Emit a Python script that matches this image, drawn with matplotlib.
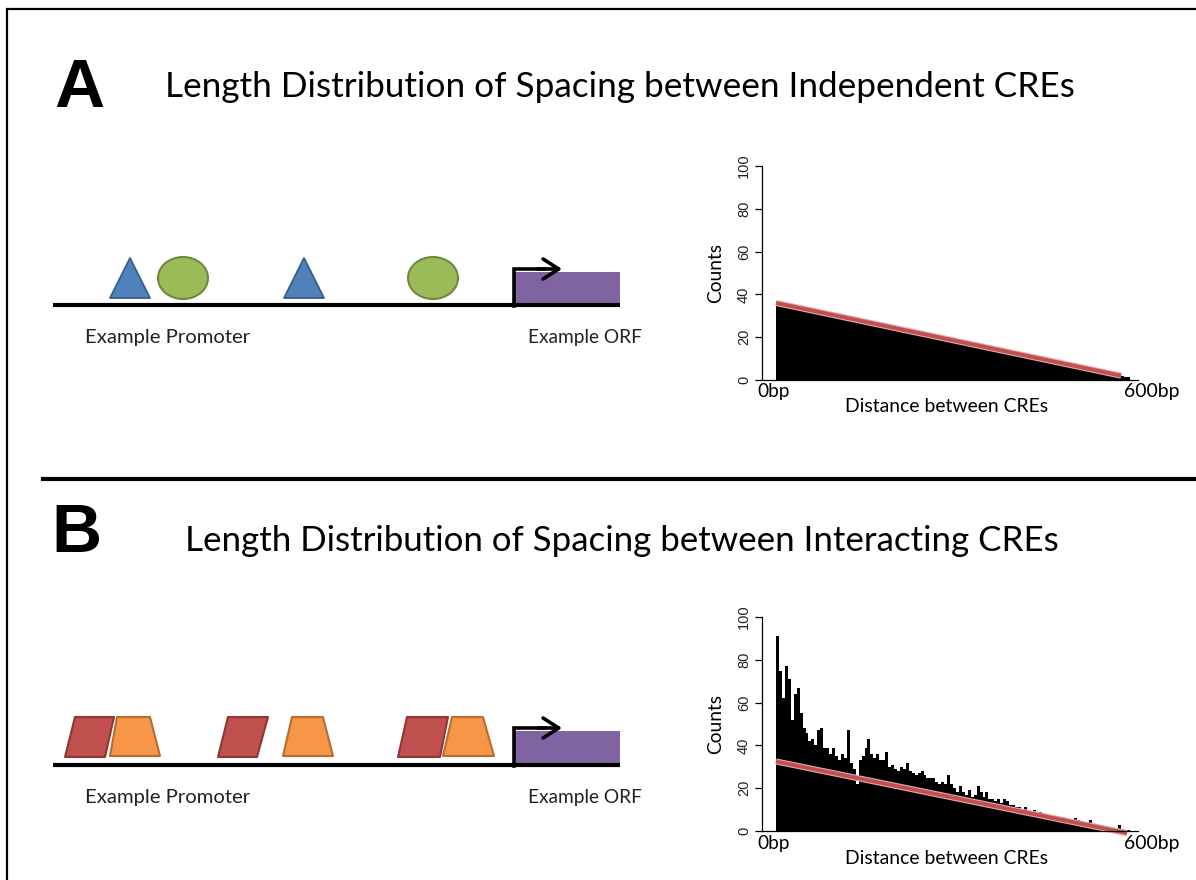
import numpy as np
import matplotlib
matplotlib.use('Agg')
import matplotlib.pyplot as plt
from matplotlib.patches import Polygon, Ellipse, Rectangle, FancyArrowPatch

plt.rcParams.update({'font.family': ['Lato', 'DejaVu Sans'],
                     'figure.facecolor': 'white'})

# ---- data ----
# panel A: independent CREs, 10bp bins from 0 to 600bp
bins_a = np.arange(0, 610, 10)
counts_a = [35.2, 34.5, 33.8, 33.4, 32.7, 31.9, 31.6, 30.8, 30.4, 29.7,
            29.2, 28.5, 28.1, 27.3, 26.9, 26.4, 25.7, 25.2, 24.6, 24.0,
            23.4, 22.9, 22.2, 21.8, 21.1, 20.6, 19.9, 19.5, 18.8, 18.3,
            17.6, 17.2, 16.5, 16.0, 15.3, 14.9, 14.2, 13.8, 13.1, 12.6,
            12.0, 11.5, 10.8, 10.4, 9.7, 9.2, 8.6, 8.1, 7.5, 6.9,
            6.4, 5.8, 5.3, 4.6, 4.1, 3.6, 2.9, 2.4, 1.8, 1.2]
fit_a_x = [0, 585]
fit_a_y = [36, 2]

# panel B: interacting CREs, 5bp bins from 0 to 600bp
bins_b = np.arange(0, 605, 5)
counts_b = [91, 75, 62, 77, 71, 52, 64, 67, 55, 48,
            46, 42, 43, 40, 47, 48, 39, 39, 36, 39,
            35, 33, 36, 34, 47, 32, 29, 22, 33, 35,
            39, 43, 36, 34, 36, 33, 33, 37, 30, 31,
            29, 28, 30, 29, 32, 28, 27, 26, 27, 28,
            26, 25, 25, 25, 23, 22, 23, 22, 26, 22,
            20, 18, 21, 18, 17, 19, 16, 17, 21, 18,
            16, 18, 15, 15, 14, 15, 13, 15, 14, 12,
            12, 11, 11, 10, 11, 9, 9, 10, 8, 9,
            8, 7, 7, 6, 7, 7, 5, 6, 5, 4,
            5, 6, 5, 4, 3, 4, 5, 3, 3, 2,
            3, 2, 2, 1.5, 1, 1, 3, 1, 0.5, 0.5]
fit_b_x = [0, 595]
fit_b_y = [32.5, -1]

y_ticks = [0, 20, 40, 60, 80, 100]

BLUE, BLUE_E = '#4f81bd', '#385d8a'
GREEN, GREEN_E = '#9bbb59', '#71893f'
RED, RED_E = '#c0504d', '#8c3836'
ORANGE, ORANGE_E = '#f79646', '#b66d31'
PURPLE = '#8064a2'
FIT = '#c0504d'

W, H = 1196, 880
fig = plt.figure(figsize=(W / 100, H / 100), dpi=100)

# background axes in pixel units for the schematic parts
bg = fig.add_axes([0, 0, 1, 1])
bg.set_xlim(0, W)
bg.set_ylim(H, 0)
bg.axis('off')
renderer = fig.canvas.get_renderer()


def fit_text(x, y, s, width, size=12, ha='left', va='baseline', **kw):
    # scale the font so the text spans `width` pixels
    t = bg.text(x, y, s, fontsize=size, ha=ha, va=va, **kw)
    ext = t.get_window_extent(renderer)
    span = ext.height if kw.get('rotation') == 90 else ext.width
    t.set_fontsize(size * width / span)
    return t


# frame and separator
bg.plot([7, 7, W], [H, 9, 9], color='black', lw=1.6, solid_joinstyle='miter')
bg.plot([43, W], [479, 479], color='black', lw=3.0)

# panel letters and titles
bg.text(54, 107, 'A', fontsize=50, fontweight='bold', family='Liberation Sans',
        ha='left', va='baseline')
bg.text(51, 552, 'B', fontsize=50, fontweight='bold', family='Liberation Sans',
        ha='left', va='baseline')
fit_text(165, 97, 'Length Distribution of Spacing between Independent CREs', 907, 26)
fit_text(185, 551, 'Length Distribution of Spacing between Interacting CREs', 870, 26)


def promoter(y_line, top):
    bg.plot([53, 620], [y_line, y_line], color='black', lw=3.0,
            solid_capstyle='butt')
    bg.add_patch(Rectangle((514, top), 106, y_line - top - 2, fc=PURPLE, ec='none'))
    ya = top - 3
    bg.plot([514, 514, 545], [y_line + 1, ya, ya], color='black', lw=2.6,
            solid_joinstyle='miter')
    bg.add_patch(FancyArrowPatch((538, ya), (562, ya),
                                 arrowstyle='->,head_length=7,head_width=4.5',
                                 color='black', lw=2.6, mutation_scale=1.6,
                                 shrinkA=0, shrinkB=0))
    fit_text(85, y_line + 38, 'Example Promoter', 165, color='#222222')
    fit_text(528, y_line + 38, 'Example ORF', 114, color='#222222')


# schematic A
promoter(305, 272)
for x0 in [110, 284]:
    bg.add_patch(Polygon([(x0, 298), (x0 + 20, 258), (x0 + 40, 298)], closed=True,
                         fc=BLUE, ec=BLUE_E, lw=1.3, joinstyle='round'))
for cx in [183, 433]:
    bg.add_patch(Ellipse((cx, 278), 50, 42, fc=GREEN, ec=GREEN_E, lw=1.5))

# schematic B
promoter(765, 731)
reds = [[(65, 757), (105, 757), (114, 717), (75, 717)],
        [(218, 757), (257, 757), (268, 717), (228, 717)],
        [(398, 757), (440, 757), (448, 717), (407, 717)]]
oranges = [[(110, 756), (160, 756), (150, 717), (117, 717)],
           [(283, 756), (333, 756), (323, 717), (292, 717)],
           [(443, 756), (494, 756), (483, 717), (452, 717)]]
for pts in reds:
    bg.add_patch(Polygon(pts, closed=True, fc=RED, ec=RED_E, lw=1.5, joinstyle='round'))
for pts in oranges:
    bg.add_patch(Polygon(pts, closed=True, fc=ORANGE, ec=ORANGE_E, lw=1.5, joinstyle='round'))


def hist_panel(y100, y0, bins, counts, fx, fy):
    left, right = 762, 1138
    ax = fig.add_axes([left / W, 1 - y0 / H, (right - left) / W, (y0 - y100) / H])
    px_per_bp = (1130 - 776) / 600
    ax.set_xlim(-(776 - left) / px_per_bp, 600 + (right - 1130) / px_per_bp)
    ax.set_ylim(0, 100)
    ax.stairs(counts, bins, fill=True, color='black', lw=0)
    ax.plot(fx, fy, color='#e3a9a8', lw=4.4, solid_capstyle='butt', clip_on=False)
    ax.plot(fx, fy, color=FIT, lw=2.8, solid_capstyle='butt', clip_on=False)
    for s in ['top', 'right']:
        ax.spines[s].set_visible(False)
    ax.spines['left'].set_bounds(0, 100)
    ax.spines['left'].set_linewidth(0.9)
    ax.spines['bottom'].set_linewidth(0.9)
    ax.set_xticks([])
    ax.set_yticks(y_ticks)
    ax.tick_params(axis='y', length=5, width=0.9, pad=3, labelsize=10.5,
                   labelrotation=90)
    for lab in ax.get_yticklabels():
        lab.set_family('Liberation Sans')
        lab.set_va('center')
        lab.set_color('#222222')
    ax.patch.set_alpha(0)
    # labels placed as in the original slide
    fit_text(716, (y0 + y100) / 2, 'Counts', 60, ha='center', va='center',
             rotation=90)
    fit_text(774, y0 + 12, '0bp', 32, ha='center', va='center')
    fit_text(1152, y0 + 12, '600bp', 55, ha='center', va='center')
    fit_text(947, y0 + 27, 'Distance between CREs', 203, ha='center', va='center')
    return ax


hist_panel(166, 380, bins_a, counts_a, fit_a_x, fit_a_y)
hist_panel(617, 831, bins_b, counts_b, fit_b_x, fit_b_y)

fig.savefig('out.png', dpi=100)
